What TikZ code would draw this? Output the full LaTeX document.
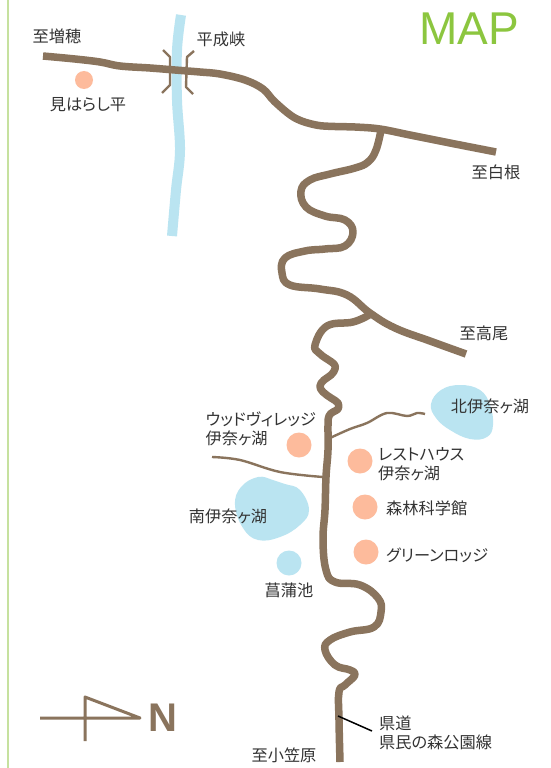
\documentclass[tikz,border=0pt]{standalone}
\usepackage{fontspec}
\setmainfont{Noto Sans CJK JP}[RawFeature=+palt]
\newfontfamily\latinfont{Liberation Sans}
\definecolor{road}{HTML}{8A745D}
\definecolor{water}{HTML}{BAE4F1}
\definecolor{spot}{HTML}{FDBB9C}
\definecolor{title}{HTML}{8CC63F}
\definecolor{edge}{HTML}{C6E19F}
\definecolor{ink}{HTML}{333333}
\tikzset{
  mainroad/.style={draw=road,line width=7.5pt,line join=round},
  thinroad/.style={draw=road,line width=2.4pt,line join=round},
  stream/.style={draw=road,line width=2.4pt},
  river/.style={draw=water,line width=10pt},
  lake/.style={fill=water,draw=none},
  spotdot/.style={circle,fill=spot,draw=none,minimum size=25pt,inner sep=0pt},
  lbl/.style={text=ink,font=\fontsize{16.2}{19}\selectfont,inner sep=0pt,align=left,yshift=-0.8pt},
  lbll/.style={lbl,anchor=west},
}
\begin{document}
\begin{tikzpicture}[x=1pt,y=-1pt]
\useasboundingbox (0,0) rectangle (550,768);
\fill[white] (0,0) rectangle (550,768);
\draw[edge,line width=2pt] (7.5,0) -- (7.5,768);
% river and lakes
\draw[river] plot[smooth,tension=0.6] coordinates {(181,15) (177,50) (177,100) (180,150) (176,190) (172,236)};
\fill[lake] plot[smooth cycle,tension=0.7] coordinates {(431,404) (441,390) (460,385) (480,390) (490,405) (493,425) (487,437) (470,439) (450,430) (436,418)};
\fill[lake] plot[smooth cycle,tension=0.7] coordinates {(235,505) (241,487) (258,477) (273,480) (285,484) (300,490) (309,510) (300,525) (280,537) (258,540) (243,528)};
\node[circle,fill=water,minimum size=25pt,inner sep=0pt] (pond) at (289,563) {};
% roads
\draw[mainroad] plot[smooth,tension=0.6] coordinates {(43,56) (75,59) (100,62) (120,66) (150,68) (175,70) (200,72) (220,74) (245,80) (263,89) (275,102) (295,118) (316,125) (335,126.5) (355,127) (380,129) (410,135) (450,143) (496,152)};
\draw[mainroad] plot[smooth,tension=0.7] coordinates {(381,130) (376,150) (368,162) (355,168) (330,174) (310,180) (301,191) (306,207) (325,216) (345,220) (353,232) (345,246) (325,249) (305,251) (285,258) (282,273) (290,285) (320,289) (347,295) (370,313) (395,328) (430,341) (466,354)};
\draw[mainroad] plot[smooth,tension=0.7] coordinates {(369,315) (353,322) (327,326) (315,345) (319,353) (327,359) (334,364) (335,369) (331,375) (324,380) (320,386) (323,392) (331,398) (338,403) (338,409) (333,412) (329,416) (328,425) (328,450) (326,477) (325,510) (323,540) (326,570) (335,582) (360,585) (378,598) (381,612) (374,627) (350,632) (330,640) (325,650) (335,665) (350,670) (355,675) (345,685) (339,692) (339,720) (340,762)};
% streams
\draw[stream] plot[smooth,tension=0.6] coordinates {(330,438) (350,429) (367,423) (387,413) (407,416) (417,413) (425,414)};
\draw[stream] plot[smooth,tension=0.6] coordinates {(212,457) (240,460) (280,472) (323,477)};
% gorge
\draw[thinroad] (163,50) -- (170,57) -- (170,85) -- (162,93);
\draw[thinroad] (194,51) -- (187,57) -- (186,87) -- (193,94);
% spots
\node[spotdot,minimum size=18pt] (miharashi) at (84,80) {};
\node[spotdot] (wood) at (299,445) {};
\node[spotdot] (rest) at (360,461) {};
\node[spotdot] (forest) at (365,507) {};
\node[spotdot] (green) at (366,552) {};
% compass
\coordinate (cw) at (40,718);
\coordinate (ce) at (140,718);
\coordinate (cn) at (85,697);
\coordinate (cs) at (85,741);
\draw[thinroad,line width=3pt] (cw) -- (ce) -- (cn) -- (cs);
\node[text=road,inner sep=0pt,font=\latinfont\bfseries\fontsize{40}{40}\selectfont] (north) at (163,718) {N};
% title
\node[text=title,inner sep=0pt,font=\latinfont\fontsize{46}{46}\selectfont] (map) at (469,29) {MAP};
% labels
\node[lbl] (l1) at (57,36) {至増穂};
\node[lbl] (l2) at (88,104) {見はらし平};
\node[lbl] (l3) at (221,39) {平成峡};
\node[lbl] (l4) at (496,172) {至白根};
\node[lbl] (l5) at (484,333) {至高尾};
\node[lbl] (l6) at (490,406) {北伊奈ヶ湖};
\node[lbll] (l7) at (205.5,428) {ウッドヴィレッジ\\伊奈ヶ湖};
\node[lbll] (l8) at (378,463) {レストハウス\\伊奈ヶ湖};
\node[lbll] (l9) at (386,508) {森林科学館};
\node[lbll] (l10) at (386,554) {グリーンロッジ};
\node[lbl] (l11) at (228,516) {南伊奈ヶ湖};
\node[lbl] (l12) at (289,590) {菖蒲池};
\node[lbll] (l13) at (379,732) {県道\\県民の森公園線};
\node[lbl] (l14) at (284,755) {至小笠原};
\coordinate (lead) at (338,716);
\draw[black,line width=1.5pt] (lead) -- (372,731);
\end{tikzpicture}
\end{document}
